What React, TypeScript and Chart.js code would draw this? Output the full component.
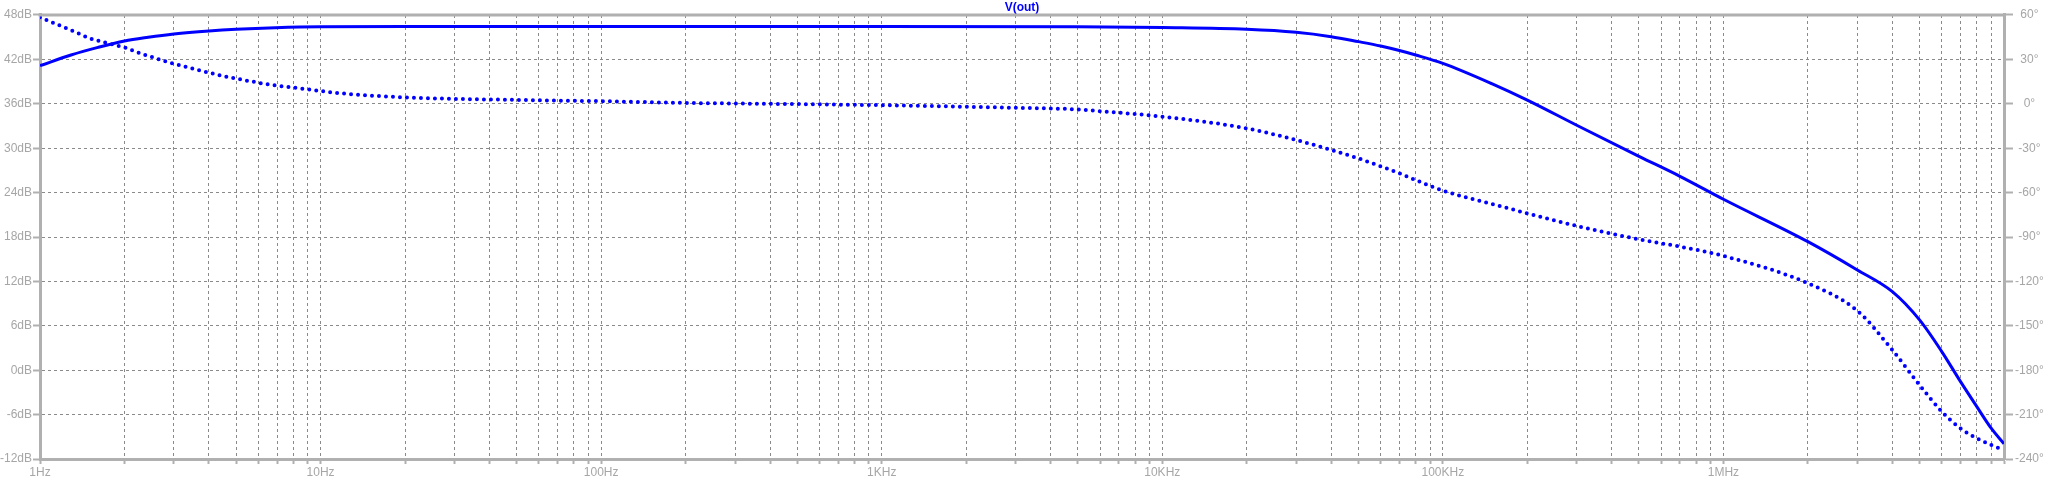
import React, { useEffect, useRef } from 'react';
import { Chart, registerables } from 'chart.js';

Chart.register(...registerables);

// ---- Data ----
// Magnitude trace (solid, left axis, dB)
const magFrequencies = [
  1, 1.29, 1.61, 2, 2.43, 3, 4, 5, 6.9, 10, 20, 50, 100, 1e3, 5e3, 1e4, 2e4, 3e4, 4e4, 5e4,
  6e4, 7e4, 8e4, 1e5, 1.5e5, 2e5, 3e5, 5e5, 7e5, 1e6, 2e6, 3e6, 4e6,
  5e6, 6e6, 7e6, 8e6, 9e6, 1e7,
];
const magnitudeDb = [
  41.15, 42.6, 43.63, 44.49, 44.99, 45.43, 45.84, 46.07, 46.29, 46.42, 46.45, 46.45, 46.45, 46.45, 46.42, 46.3, 46.07, 45.66, 45.07, 44.4,
  43.81, 43.2, 42.6, 41.47, 38.7, 36.5, 33.1, 28.9, 26.2, 23.1, 17.37, 13.55, 10.62,
  6.8, 2.52, -1.54, -4.92, -7.84, -9.95,
];

// Phase trace (dotted, right axis, degrees)
const phaseFrequencies = [
  1, 1.18, 1.33, 1.51, 1.7, 2.01, 2.28, 2.55, 2.87, 3.24, 3.66, 4.1, 4.61, 5.17, 5.83, 6.6, 7.87, 9.4, 11.2, 19,
  50, 100, 200, 500, 1e3, 2e3, 3e3, 5e3, 6e3, 1e4, 2e4, 3e4, 4e4, 5e4, 6e4, 7e4, 8e4, 1e5, 1.5e5, 2e5,
  3e5, 5e5, 7e5, 1e6, 2e6, 3e6, 4e6, 5e6, 6e6, 7e6, 8e6, 9e6, 1e7,
];
const phaseDeg = [
  58.5, 52.8, 48.7, 44.2, 41.5, 37.9, 34.1, 31.2, 28.0, 25.5, 22.8, 20.6, 18.3, 16.5, 14.7, 12.9, 11.1, 9.3, 7.5, 4.5,
  2.6, 1.75, 0.6, -0.2, -0.95, -2.0, -2.7, -3.8, -5.0, -8.7, -16.6, -24.5, -31.2, -36.9, -42.2, -47.0, -51.5, -58.7, -67.7, -74.0,
  -82.5, -91.6, -96.5, -102.8, -121.3, -139.8, -166.4, -190.0, -208.0, -219.3, -226.0, -230.5, -234.0,
];

const decades = [1, 10, 100, 1e3, 1e4, 1e5, 1e6, 1e7];
const decadeLabels = ['1Hz', '10Hz', '100Hz', '1KHz', '10KHz', '100KHz', '1MHz', ''];
const minorMultipliers = [1, 2, 3, 4, 5, 6, 7, 8, 9];

const dbMin = -12;
const dbMax = 48;
const dbStep = 6;
const degMin = -240;
const degMax = 60;
const degStep = 30;

const title = 'V(out)';

// ---- Style ----
const FONT = '"Liberation Sans", Arial, sans-serif';
const FRAME = '#b0b0b0';
const LABEL = '#a6a6a6';
const GRID = '#8a8a8a';
const TRACE = '#0000ff';

const xTickValues: number[] = [];
decades.forEach((d, i) => {
  if (i === decades.length - 1) {
    xTickValues.push(d);
  } else {
    minorMultipliers.forEach((m) => xTickValues.push(d * m));
  }
});
const labelByDecade = new Map<number, string>();
decades.forEach((d, i) => labelByDecade.set(d, decadeLabels[i]));

const topFramePlugin = {
  id: 'topFrame',
  afterDraw(chart: any) {
    const { ctx, chartArea } = chart;
    ctx.save();
    ctx.strokeStyle = FRAME;
    ctx.lineWidth = 3;
    ctx.beginPath();
    ctx.moveTo(chartArea.left - 1.5, chartArea.top);
    ctx.lineTo(chartArea.right + 1.5, chartArea.top);
    ctx.stroke();
    ctx.restore();
  },
};

export default function App() {
  const canvasRef = useRef<HTMLCanvasElement | null>(null);

  useEffect(() => {
    const canvas = canvasRef.current;
    if (!canvas) return;

    const magData = magFrequencies.map((f, i) => ({ x: f, y: magnitudeDb[i] }));
    const phaseData = phaseFrequencies.map((f, i) => ({ x: f, y: phaseDeg[i] }));

    const chart = new Chart(canvas, {
      type: 'line',
      data: {
        datasets: [
          {
            label: 'magnitude',
            data: magData,
            yAxisID: 'y',
            borderColor: TRACE,
            borderWidth: 3,
            pointRadius: 0,
            cubicInterpolationMode: 'monotone',
            fill: false,
          },
          {
            label: 'phase',
            data: phaseData,
            yAxisID: 'y1',
            borderColor: TRACE,
            borderWidth: 4,
            borderDash: [0, 7],
            borderCapStyle: 'round',
            pointRadius: 0,
            cubicInterpolationMode: 'monotone',
            fill: false,
          },
        ],
      },
      options: {
        responsive: false,
        animation: false,
        events: [],
        layout: { padding: 0 },
        plugins: {
          legend: { display: false },
          tooltip: { enabled: false },
          title: {
            display: true,
            text: title,
            color: TRACE,
            fullSize: false,
            font: { family: FONT, size: 12, weight: 'bold', lineHeight: 1.2 },
            padding: { top: 0, bottom: 0.6 },
          },
        },
        scales: {
          x: {
            type: 'logarithmic',
            position: 'bottom',
            min: 1,
            max: 1e7,
            afterBuildTicks: (scale: any) => {
              scale.ticks = xTickValues.map((v) => ({ value: v }));
            },
            afterFit: (scale: any) => {
              scale.height = 21;
            },
            ticks: {
              autoSkip: false,
              maxRotation: 0,
              minRotation: 0,
              padding: 1,
              color: LABEL,
              font: { family: FONT, size: 12 },
              callback: (value: any) => labelByDecade.get(Number(value)) ?? '',
            },
            grid: {
              color: GRID,
              lineWidth: 1,
              drawTicks: true,
              tickLength: 5,
              tickWidth: 2,
              tickColor: FRAME,
              tickBorderDash: [],
            },
            border: { display: true, color: FRAME, width: 3, dash: [3, 3] },
          },
          y: {
            type: 'linear',
            position: 'left',
            min: dbMin,
            max: dbMax,
            afterFit: (scale: any) => {
              scale.width = 40;
            },
            ticks: {
              stepSize: dbStep,
              padding: 1,
              color: LABEL,
              font: { family: FONT, size: 12 },
              callback: (value: any) => `${value}dB`,
            },
            grid: {
              color: GRID,
              lineWidth: 1,
              drawTicks: true,
              tickLength: 7,
              tickWidth: 2,
              tickColor: FRAME,
              tickBorderDash: [],
            },
            border: { display: true, color: FRAME, width: 3, dash: [3, 3] },
          },
          y1: {
            type: 'linear',
            position: 'right',
            min: degMin,
            max: degMax,
            afterFit: (scale: any) => {
              scale.width = 44;
            },
            ticks: {
              stepSize: degStep,
              padding: 2,
              crossAlign: 'center',
              color: LABEL,
              font: { family: FONT, size: 12 },
              callback: (value: any) => `${value}°`,
            },
            grid: {
              drawOnChartArea: false,
              drawTicks: true,
              tickLength: 9,
              tickWidth: 2,
              tickColor: FRAME,
              tickBorderDash: [],
            },
            border: { display: true, color: FRAME, width: 3 },
          },
        },
      },
      plugins: [topFramePlugin],
    } as any);

    return () => {
      chart.destroy();
    };
  }, []);

  return (
    <div style={{ position: 'absolute', left: 0, top: 0, width: 2048, height: 480, background: '#ffffff' }}>
      <canvas ref={canvasRef} width={2048} height={480} style={{ display: 'block', width: 2048, height: 480 }} />
    </div>
  );
}
